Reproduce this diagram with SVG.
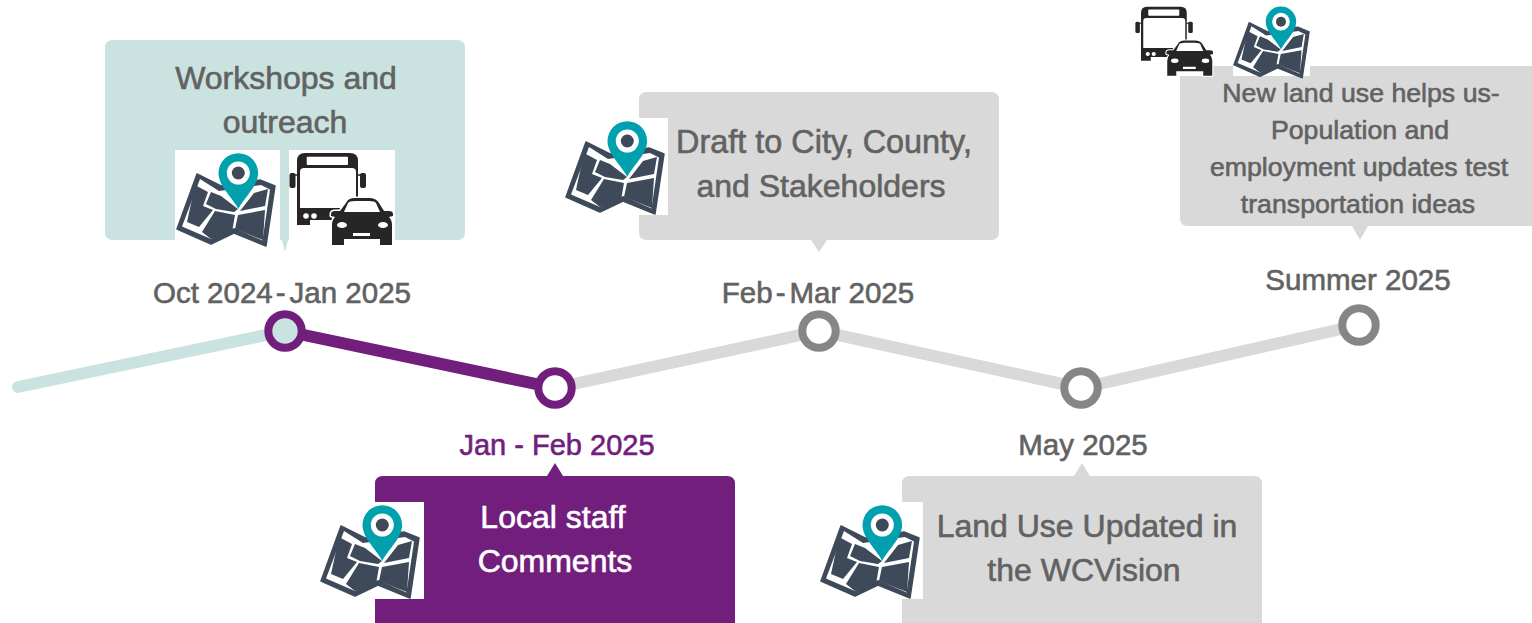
<svg xmlns="http://www.w3.org/2000/svg" xmlns:xlink="http://www.w3.org/1999/xlink" width="1532" height="623" viewBox="0 0 1532 623">
<style>
text{font-family:"Liberation Sans",Arial,sans-serif;text-anchor:middle;fill:#626262;stroke:#626262;stroke-width:.6}
.t{font-size:32px}
.d{font-size:29.5px}
.s{font-size:26.7px}
.w{fill:#fff;stroke:#fff}
.p{fill:#711e7d;stroke:#711e7d}
.line{fill:none;stroke-width:12;stroke-linecap:round}
.dot{fill:#fff;stroke-width:8}
</style>
<defs>
<symbol id="map" overflow="visible">
<path d="M21 24L45 36L84 30L99 36L90 96L58 83L35 94L1 79Z" fill="#3e4a59" stroke="#3e4a59" stroke-width="1.5" stroke-linejoin="round"/>
<path d="M24 29L43 41L85 35L94 39.5L86.5 90.5L58 78L35 89L6 76.5Z" fill="#fff"/>
<path d="M19 35L32 42L27 56L37 60L23 77L11 72Z M35 42L45 46L62 59L58 62L40 59L30 54Z M39 61L59 65L56 82L35 89L26 82Z M62 65L89 60L87 90L59 79Z M78 43L92 39L89 56L64 61Z" fill="#3e4a59"/>
<path d="M62.3 58.7C56 47 42.5 36 42.5 23A19.8 19.8 0 0 1 82.1 23C82.1 36 68.6 47 62.3 58.7Z" fill="#00a0ae"/>
<circle cx="62.3" cy="23" r="11.5" fill="#fff"/>
<circle cx="62.3" cy="23" r="6.5" fill="#3e4a59"/>
</symbol>
<symbol id="bus" overflow="visible">
<path d="M8 11Q8 3 16 3H61Q69 3 69 11V75H56V70H21V75H8Z" fill="#262626"/>
<rect x="17.7" y="6.7" width="41.3" height="8.3" rx="1" fill="#fff"/>
<path d="M11 22Q11 18 15 18H63Q67 18 67 22V58H11Z" fill="#fff"/>
<rect x="0.5" y="23" width="6" height="15" rx="2" fill="#262626"/>
<rect x="71" y="23" width="6" height="15" rx="2" fill="#262626"/>
<path d="M6 25H10M72 25H68" stroke="#262626" stroke-width="1.5"/>
<circle cx="17" cy="66" r="2.8" fill="#fff"/>
<circle cx="25" cy="66" r="2.8" fill="#fff"/>
<path d="M57 53Q59 48 66 48H80Q87 48 90 53L95 61H100Q104 61 104 64V66L100 67Q103 70 103 75V95H91V89H55V95H43V75Q43 70 46 67L42 66V64Q42 61 46 61H51Z" fill="#262626" stroke="#fff" stroke-width="3" stroke-linejoin="round" paint-order="stroke"/>
<path d="M55 62L59 53Q60 51 66 51H80Q86 51 87 53L91 62Z" fill="#fff"/>
<ellipse cx="53" cy="75" rx="5" ry="3" fill="#fff"/>
<ellipse cx="94" cy="75" rx="5" ry="3" fill="#fff"/>
<rect x="64" y="83" width="17" height="3" fill="#fff"/>
</symbol>
</defs>
<rect width="1532" height="623" fill="#fff"/>
<g id="connectors">
<path class="line" stroke="#cbe3e0" d="M18 387L285 331"/>
<path class="line" stroke="#d9d9d9" d="M555 388L819 331L1081 388L1359 325"/>
<path class="line" stroke="#711e7d" d="M285 331L555 388"/>
</g>
<g id="node-workshops">
<path d="M113 40H457Q465 40 465 48V232Q465 240 457 240H288L285 252L282 240H113Q105 240 105 232V48Q105 40 113 40Z" fill="#cbe3e0"/>
<text class="t" x="286" y="89">Workshops and</text>
<text class="t" x="285" y="133">outreach</text>
<rect x="175" y="150" width="105" height="95" fill="#fff"/>
<use xlink:href="#map" href="#map" x="176" y="150"/>
<rect x="289" y="150" width="106" height="95" fill="#fff"/>
<use xlink:href="#bus" href="#bus" x="289" y="150"/>
<text class="d" x="282" y="303">Oct 2024<tspan dx="3">-</tspan><tspan dx="4">Jan 2025</tspan></text>
<circle class="dot" cx="285" cy="331" r="16.7" stroke="#711e7d" style="fill:#cbe3e0"/>
</g>
<g id="node-local">
<path d="M383 476H547L555 463L563 476H727Q735 476 735 484V623H375V484Q375 476 383 476Z" fill="#711e7d"/>
<text class="t w" x="553" y="528">Local staff</text>
<text class="t w" x="555" y="572">Comments</text>
<rect x="320" y="502" width="104" height="97" fill="#fff"/>
<use xlink:href="#map" href="#map" x="320" y="502"/>
<text class="d p" x="557" y="455" style="font-size:29px">Jan - Feb 2025</text>
<circle class="dot" cx="555" cy="388" r="16.7" stroke="#711e7d"/>
</g>
<g id="node-draft">
<path d="M647 92H991Q999 92 999 100V232Q999 240 991 240H827L819 252L811 240H647Q639 240 639 232V100Q639 92 647 92Z" fill="#d9d9d9"/>
<text class="t" x="824" y="153" style="font-size:32.4px">Draft to City, County,</text>
<text class="t" x="821" y="197">and Stakeholders</text>
<rect x="565" y="118" width="103" height="97" fill="#fff"/>
<use xlink:href="#map" href="#map" x="565" y="118"/>
<text class="d" x="818" y="303">Feb<tspan dx="3">-</tspan><tspan dx="4">Mar 2025</tspan></text>
<circle class="dot" cx="819" cy="331" r="16.7" stroke="#868686"/>
</g>
<g id="node-landuse">
<path d="M910 476H1074L1082 463L1090 476H1254Q1262 476 1262 484V623H902V484Q902 476 910 476Z" fill="#d9d9d9"/>
<text class="t" x="1087" y="537">Land Use Updated in</text>
<text class="t" x="1084" y="581">the WCVision</text>
<rect x="820" y="502" width="103" height="97" fill="#fff"/>
<use xlink:href="#map" href="#map" x="820" y="502"/>
<text class="d" x="1083" y="455">May 2025</text>
<circle class="dot" cx="1081" cy="388" r="16.7" stroke="#868686"/>
</g>
<g id="node-summer">
<path d="M1188 66H1532V226H1368L1360 240L1352 226H1188Q1180 226 1180 218V74Q1180 66 1188 66Z" fill="#d9d9d9"/>
<rect x="1135" y="0" width="78" height="76" fill="#fff"/>
<use xlink:href="#bus" href="#bus" transform="translate(1135 4.5) scale(.75)"/>
<rect x="1233" y="0" width="77" height="76" fill="#fff"/>
<use xlink:href="#map" href="#map" transform="translate(1233 4) scale(.77)"/>
<text class="s" x="1361" y="102">New land use helps us-</text>
<text class="s" x="1360" y="139">Population and</text>
<text class="s" x="1359" y="176">employment updates test</text>
<text class="s" x="1358" y="213">transportation ideas</text>
<text class="d" x="1358" y="290">Summer 2025</text>
<circle class="dot" cx="1359" cy="325" r="16.7" stroke="#868686"/>
</g>
</svg>
